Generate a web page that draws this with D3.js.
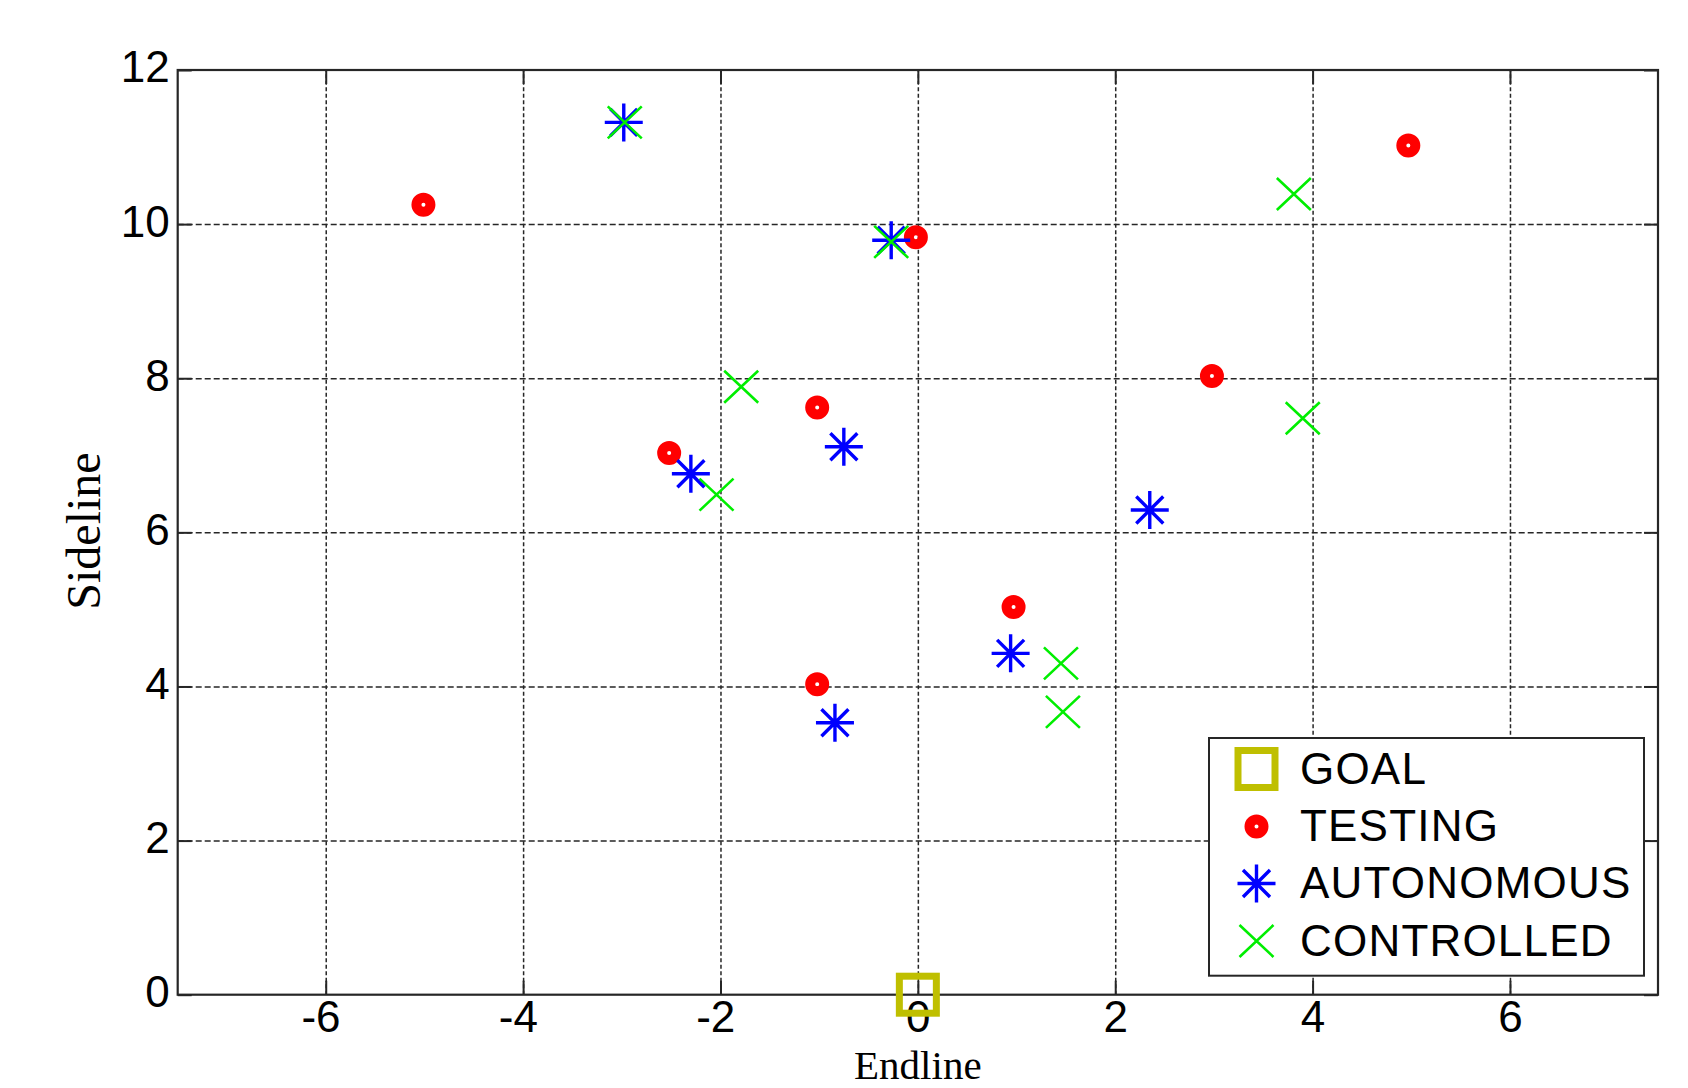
<!DOCTYPE html>
<html><head><meta charset="utf-8">
<script src="https://cdn.jsdelivr.net/npm/d3@7"></script>
<style>body{margin:0;background:#fff}svg{display:block}</style>
</head><body>
<svg id="c" width="1688" height="1088"></svg>
<script>
// ---- data ----
const xTicks = [-6, -4, -2, 0, 2, 4, 6];
const yTicks = [0, 2, 4, 6, 8, 10, 12];
const goalX = [0];
const goalY = [0];
const testingX = [-5.01, -0.02, 4.97, 2.98, -1.02, -2.52, 0.97, -1.02];
const testingY = [10.25, 9.83, 11.02, 8.03, 7.62, 7.03, 5.03, 4.03];
const autoX = [-2.98, -0.27, -2.30, -0.75, 2.35, 0.94, -0.84];
const autoY = [11.32, 9.79, 6.76, 7.11, 6.29, 4.43, 3.53];
const ctrlX = [-2.97, -0.27, 3.81, -1.79, 3.90, -2.04, 1.45, 1.47];
const ctrlY = [11.32, 9.77, 10.39, 7.89, 7.48, 6.49, 4.30, 3.67];
const legendLabels = ["GOAL", "TESTING", "AUTONOMOUS", "CONTROLLED"];
const xLabel = "Endline";
const yLabel = "Sideline";

// ---- layout ----
const L = 177.7, R = 1658, T = 70, B = 994.7;
const svg = d3.select("#c");
const x = d3.scaleLinear().domain([-7.5, 7.5]).range([L, R]);
const y = d3.scaleLinear().domain([0, 12]).range([B, T]);
const axisCol = "#262626";
const sans = "Arial, 'Liberation Sans', sans-serif";
const serif = "'Times New Roman', 'Liberation Serif', serif";
const fmt = d => String(d);

// grid
const gx = svg.append("g").attr("transform", `translate(0,${B})`)
  .call(d3.axisBottom(x).tickValues(xTicks).tickSize(-(B - T)).tickFormat(""));
gx.select(".domain").remove();
gx.selectAll("line").attr("stroke", axisCol).attr("stroke-width", 1.5).attr("stroke-dasharray", "4,2.5");
const gy = svg.append("g").attr("transform", `translate(${L},0)`)
  .call(d3.axisLeft(y).tickValues(yTicks.filter(v => v > 0 && v < 12)).tickSize(-(R - L)).tickFormat(""));
gy.select(".domain").remove();
gy.selectAll("line").attr("stroke", axisCol).attr("stroke-width", 1.5).attr("stroke-dasharray", "6,3");

// axes with inward ticks
const tk = 14;
const ab = svg.append("g").attr("transform", `translate(0,${B})`)
  .call(d3.axisBottom(x).tickValues(xTicks).tickSize(-tk).tickFormat(fmt));
const at = svg.append("g").attr("transform", `translate(0,${T})`)
  .call(d3.axisTop(x).tickValues(xTicks).tickSize(-tk).tickFormat(""));
const al = svg.append("g").attr("transform", `translate(${L},0)`)
  .call(d3.axisLeft(y).tickValues(yTicks).tickSize(-tk).tickFormat(fmt));
const ar = svg.append("g").attr("transform", `translate(${R},0)`)
  .call(d3.axisRight(y).tickValues(yTicks).tickSize(-tk).tickFormat(""));
[ab, at, al, ar].forEach(g => {
  g.select(".domain").remove();
  g.selectAll("line").attr("stroke", axisCol).attr("stroke-width", 2);
});
ab.selectAll("text").attr("y", 6.5).attr("dy", "0.71em")
  .attr("dx", d => d < 0 ? "-0.12em" : 0)
  .attr("font-family", sans).attr("font-size", 44).attr("fill", "#000");
al.selectAll("text").attr("x", -8).attr("dy", "0.27em")
  .attr("font-family", sans).attr("font-size", 44).attr("fill", "#000");

// box
svg.append("rect").attr("x", L).attr("y", T).attr("width", R - L).attr("height", B - T)
  .attr("fill", "none").attr("stroke", axisCol).attr("stroke-width", 2.2);

// axis labels
svg.append("text").attr("x", x(0)).attr("y", 1078.5).attr("text-anchor", "middle")
  .attr("font-family", serif).attr("font-size", 41).attr("fill", "#000").text(xLabel);
svg.append("text").attr("transform", `translate(100,${531}) rotate(-90)`).attr("text-anchor", "middle")
  .attr("font-family", serif).attr("font-size", 48).attr("fill", "#000").text(yLabel);

// marker makers
const goalCol = "#bfbf00", testCol = "#ff0000", autoCol = "#0000ff", ctrlCol = "#00ee00";
function goalMark(g, cx, cy) {
  g.append("rect").attr("x", cx - 18.5).attr("y", cy - 18.5).attr("width", 37).attr("height", 37)
    .attr("fill", "none").attr("stroke", goalCol).attr("stroke-width", 7);
}
function testMark(g, cx, cy) {
  g.append("circle").attr("cx", cx).attr("cy", cy).attr("r", 7)
    .attr("fill", "none").attr("stroke", testCol).attr("stroke-width", 10);
}
function autoMark(g, cx, cy) {
  const a = 19, d = 13.5;
  g.append("path").attr("d",
    `M${cx - a},${cy}H${cx + a}M${cx},${cy - a}V${cy + a}` +
    `M${cx - d},${cy - d}L${cx + d},${cy + d}M${cx - d},${cy + d}L${cx + d},${cy - d}`)
    .attr("fill", "none").attr("stroke", autoCol).attr("stroke-width", 3.4);
}
function ctrlMark(g, cx, cy) {
  const w = 17, h = 16;
  g.append("path").attr("d",
    `M${cx - w},${cy - h}L${cx + w},${cy + h}M${cx - w},${cy + h}L${cx + w},${cy - h}`)
    .attr("fill", "none").attr("stroke", ctrlCol).attr("stroke-width", 2.6);
}

// data marks
const gd = svg.append("g");
goalX.forEach((v, i) => goalMark(gd, x(v), y(goalY[i])));
testingX.forEach((v, i) => testMark(gd, x(v), y(testingY[i])));
autoX.forEach((v, i) => autoMark(gd, x(v), y(autoY[i])));
ctrlX.forEach((v, i) => ctrlMark(gd, x(v), y(ctrlY[i])));

// legend
const lg = svg.append("g");
lg.append("rect").attr("x", 1209).attr("y", 738).attr("width", 435).attr("height", 237.7)
  .attr("fill", "#fff").attr("stroke", axisCol).attr("stroke-width", 2);
const rowY = [769, 826.5, 883.5, 941];
const makers = [goalMark, testMark, autoMark, ctrlMark];
legendLabels.forEach((lab, i) => {
  makers[i](lg, 1256.5, rowY[i]);
  lg.append("text").attr("x", 1300).attr("y", rowY[i] + 14.5)
    .attr("font-family", sans).attr("font-size", 44).attr("letter-spacing", 1.2)
    .attr("fill", "#000").text(lab);
});
</script>
</body></html>
